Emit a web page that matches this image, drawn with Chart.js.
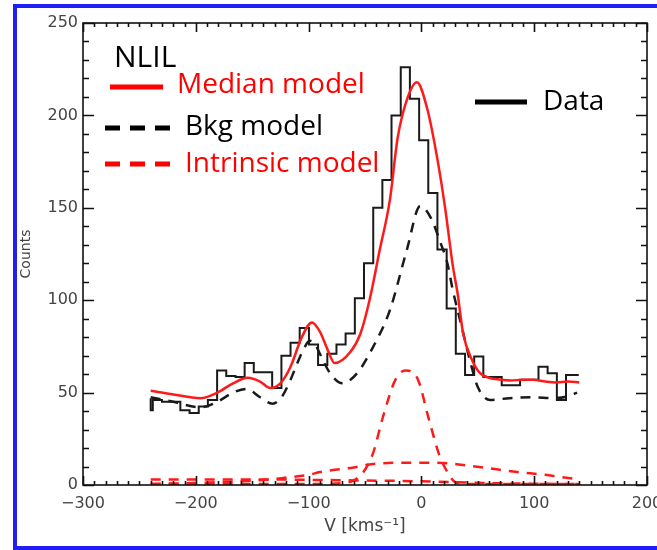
<!DOCTYPE html>
<html>
<head>
<meta charset="utf-8">
<title>NLIL counts</title>
<script src="https://cdn.jsdelivr.net/npm/chart.js@4.4.1/dist/chart.umd.min.js"></script>
<style>
  html, body { margin: 0; padding: 0; background: #fff; overflow: hidden; }
  #wrap { position: relative; width: 657px; height: 550px; overflow: hidden; }
  #frame {
    position: absolute; left: 13px; top: 4px; width: 640px; height: 538px;
    border: 4px solid rgb(30, 30, 245); border-right: none; pointer-events: none;
  }
  canvas { position: absolute; left: 0; top: 0; }
</style>
</head>
<body>
<div id="wrap">
  <canvas id="nlilChart" width="657" height="550"></canvas>
  <div id="frame"></div>
</div>
<script>
// Observed histogram: bin edges (first and last entries are the half-bin stubs)
const binEdges = [-240, -238.1, -230.0, -221.8, -213.7, -205.5, -197.4, -189.3, -181.1, -173.0,
  -164.8, -156.7, -148.6, -140.4, -132.3, -124.1, -116.0, -107.9, -99.7, -91.6, -83.4, -75.3,
  -67.2, -59.0, -50.9, -42.7, -34.6, -26.5, -18.3, -10.2, -2.0, 6.1, 14.2, 22.4, 30.5, 38.7,
  46.8, 54.9, 63.1, 71.2, 79.4, 87.5, 95.6, 103.8, 111.9, 120.1, 128.2, 136.3, 139.5];
const binCounts = [47, 40.5, 46, 45, 45, 40.5, 39, 42.5, 46, 62, 59, 58.5, 66, 61, 61, 52.5,
  70, 77, 85, 76, 65, 71, 76, 82, 101, 120, 150, 165, 200, 226, 209, 186.5, 158, 127.5, 95.5,
  71, 59.5, 69.5, 58.5, 58.5, 54, 54, 57, 57, 64, 60.5, 46, 59.5];

// Median model (red solid)
const medianV = [-240, -220, -196, -181, -167, -154, -143, -134, -125, -116, -106, -97, -90, -83,
  -77, -63, -54, -46, -37, -28, -21, -12, -4, 5, 14, 21, 28, 32, 37, 45, 52, 60, 70, 79, 90, 99,
  110, 120, 130, 140];
const medianC = [51, 49, 47, 50, 55, 58, 56, 52.5, 55, 64, 80, 88, 83, 73,
  66, 72, 82, 100, 127, 154, 188, 210, 218, 204, 177, 150, 118, 104, 82, 67.5, 60.5, 58, 57, 56.5, 57, 57,
  56, 55.5, 56, 55.5];

// Background model (black dashed)
const bkgV = [-240, -220, -196, -181, -167, -155, -143, -132, -124, -116, -110, -104, -99, -94, -90,
  -81, -70, -57, -43, -28, -13, -1, 8, 17, 23, 28, 36, 43, 50, 61, 78, 99, 117, 130, 138];
const bkgC = [47.5, 45, 42, 45, 50, 52, 47.5, 44, 47.5, 57, 66, 74, 78, 76, 71,
  60.5, 55, 60.5, 74.5, 94.5, 127, 151, 145, 131, 120, 105, 85, 67.5, 53, 46, 47, 47.5, 47, 48, 50];

// Intrinsic model components (red dashed)
const narrowV = [-240, -100, -70, -60, -52, -43, -34, -23, -14, -3, 6, 16, 24, 30, 40, 140];
const narrowC = [0.5, 0.5, 1, 2.5, 6.5, 17, 37, 57, 62, 57, 37, 16, 6, 1.5, 0.5, 0.5];
const broadV = [-240, -180, -140, -120, -100, -90, -80, -60, -48, -22, 0, 14, 35, 58, 85, 110, 123, 140];
const broadC = [0.5, 1.5, 2.7, 4, 5.5, 7, 8, 9.5, 11, 12, 12, 12, 11, 9.2, 7, 5.5, 4.3, 3];
const lowV = [-240, -150, -60, 0, 60, 140];
const lowC = [3, 3, 2.5, 2, 1, 0.5];

const xTicks = [-300, -200, -100, 0, 100, 200];
const yTicks = [0, 50, 100, 150, 200, 250];

const RED = '#ff1a1a';
const DASH = [10, 8];

function pts(xs, ys) {
  return xs.map((v, i) => ({ x: v, y: ys[i] }));
}

// IDL-like box with inward ticks plus the hand-placed legend
const boxAndKey = {
  id: 'boxAndKey',
  afterDatasetsDraw(chart) {
    const { ctx, chartArea: a, scales: { x, y } } = chart;
    ctx.save();
    ctx.strokeStyle = '#111';
    ctx.lineWidth = 1.6;
    ctx.strokeRect(a.left, a.top, a.right - a.left, a.bottom - a.top);
    ctx.beginPath();
    for (let v = x.min; v <= x.max; v += 10) {
      const px = Math.round(x.getPixelForValue(v)) + 0.5;
      const len = v % 100 === 0 ? 9 : 4;
      ctx.moveTo(px, a.bottom); ctx.lineTo(px, a.bottom - len);
      ctx.moveTo(px, a.top); ctx.lineTo(px, a.top + len);
    }
    for (let v = y.min; v <= y.max; v += 10) {
      const py = Math.round(y.getPixelForValue(v)) + 0.5;
      const len = v % 50 === 0 ? 11 : 6;
      ctx.moveTo(a.left, py); ctx.lineTo(a.left + len, py);
      ctx.moveTo(a.right, py); ctx.lineTo(a.right - len, py);
    }
    ctx.stroke();
    ctx.restore();
  },
  afterDraw(chart) {
    const ctx = chart.ctx;
    ctx.save();
    // keep the strip right of the plot box clean (label row excepted)
    ctx.fillStyle = '#fff';
    ctx.fillRect(649, 0, 8, 492);
    ctx.fillRect(649, 516, 8, 34);

    ctx.textBaseline = 'alphabetic';
    ctx.fillStyle = '#000';
    ctx.font = '30px "Open Sans"';
    ctx.fillText('NLIL', 114, 67);

    ctx.font = '28px "Open Sans"';
    ctx.lineWidth = 5;
    // Median model
    ctx.strokeStyle = '#ff0000';
    ctx.setLineDash([]);
    ctx.beginPath(); ctx.moveTo(110, 87); ctx.lineTo(163, 87); ctx.stroke();
    ctx.fillStyle = '#ff0000';
    ctx.fillText('Median model', 177, 93);
    // Bkg model
    ctx.strokeStyle = '#000';
    ctx.setLineDash([15, 10]);
    ctx.beginPath(); ctx.moveTo(105, 128); ctx.lineTo(170, 128); ctx.stroke();
    ctx.fillStyle = '#000';
    ctx.fillText('Bkg model', 185, 135);
    // Intrinsic model
    ctx.strokeStyle = '#ff0000';
    ctx.beginPath(); ctx.moveTo(105, 164); ctx.lineTo(170, 164); ctx.stroke();
    ctx.fillStyle = '#ff0000';
    ctx.fillText('Intrinsic model', 185, 172);
    // Data
    ctx.setLineDash([]);
    ctx.strokeStyle = '#000';
    ctx.beginPath(); ctx.moveTo(475, 102); ctx.lineTo(527, 102); ctx.stroke();
    ctx.fillStyle = '#000';
    ctx.fillText('Data', 543, 110);
    ctx.restore();
  }
};

const tickFont = { family: '"DejaVu Sans", sans-serif', size: 16 };

function lineSet(label, xs, ys, color, dashed) {
  return {
    label: label,
    data: pts(xs, ys),
    borderColor: color,
    borderWidth: 2.5,
    borderDash: dashed ? DASH : [],
    tension: 0.4,
    cubicInterpolationMode: 'monotone',
    pointRadius: 0
  };
}

new Chart(document.getElementById('nlilChart'), {
  type: 'line',
  data: {
    datasets: [
      lineSet('Median model', medianV, medianC, RED, false),
      {
        label: 'Data',
        data: pts(binEdges, binCounts.concat([binCounts[binCounts.length - 1]])),
        borderColor: '#1a1a1a',
        borderWidth: 2,
        stepped: 'after',
        pointRadius: 0
      },
      lineSet('Bkg model', bkgV, bkgC, '#1a1a1a', true),
      lineSet('Intrinsic narrow', narrowV, narrowC, RED, true),
      lineSet('Intrinsic broad', broadV, broadC, RED, true),
      lineSet('Intrinsic low', lowV, lowC, RED, true)
    ]
  },
  options: {
    responsive: false,
    animation: false,
    devicePixelRatio: 1,
    layout: { autoPadding: false, padding: { left: 0, right: 10, top: 23, bottom: 0 } },
    plugins: { legend: { display: false }, tooltip: { enabled: false } },
    scales: {
      x: {
        type: 'linear',
        min: xTicks[0],
        max: xTicks[xTicks.length - 1],
        afterFit: s => { s.height = 65; s.paddingLeft = 0; s.paddingRight = 0; },
        afterBuildTicks: s => { s.ticks = xTicks.map(v => ({ value: v })); },
        grid: { display: false, drawTicks: false },
        border: { display: false },
        ticks: {
          color: '#444',
          font: tickFont,
          padding: 9,
          maxRotation: 0,
          callback: v => (v < 0 ? '\u2212' + Math.abs(v) : String(v))
        },
        title: {
          display: true,
          text: 'V [kms\u207B\u00B9]',
          color: '#444',
          font: { family: '"DejaVu Sans", sans-serif', size: 17 },
          padding: { top: 0, bottom: 13 }
        }
      },
      y: {
        min: yTicks[0],
        max: yTicks[yTicks.length - 1],
        afterFit: s => { s.width = 83; s.paddingTop = 0; s.paddingBottom = 0; },
        afterBuildTicks: s => { s.ticks = yTicks.map(v => ({ value: v })); },
        grid: { display: false, drawTicks: false },
        border: { display: false },
        ticks: { color: '#444', font: tickFont, padding: 5 },
        title: {
          display: true,
          text: 'Counts',
          color: '#444',
          font: { family: '"DejaVu Sans", sans-serif', size: 14 },
          padding: { top: 18, bottom: 0 }
        }
      }
    }
  },
  plugins: [boxAndKey]
});
</script>
</body>
</html>
